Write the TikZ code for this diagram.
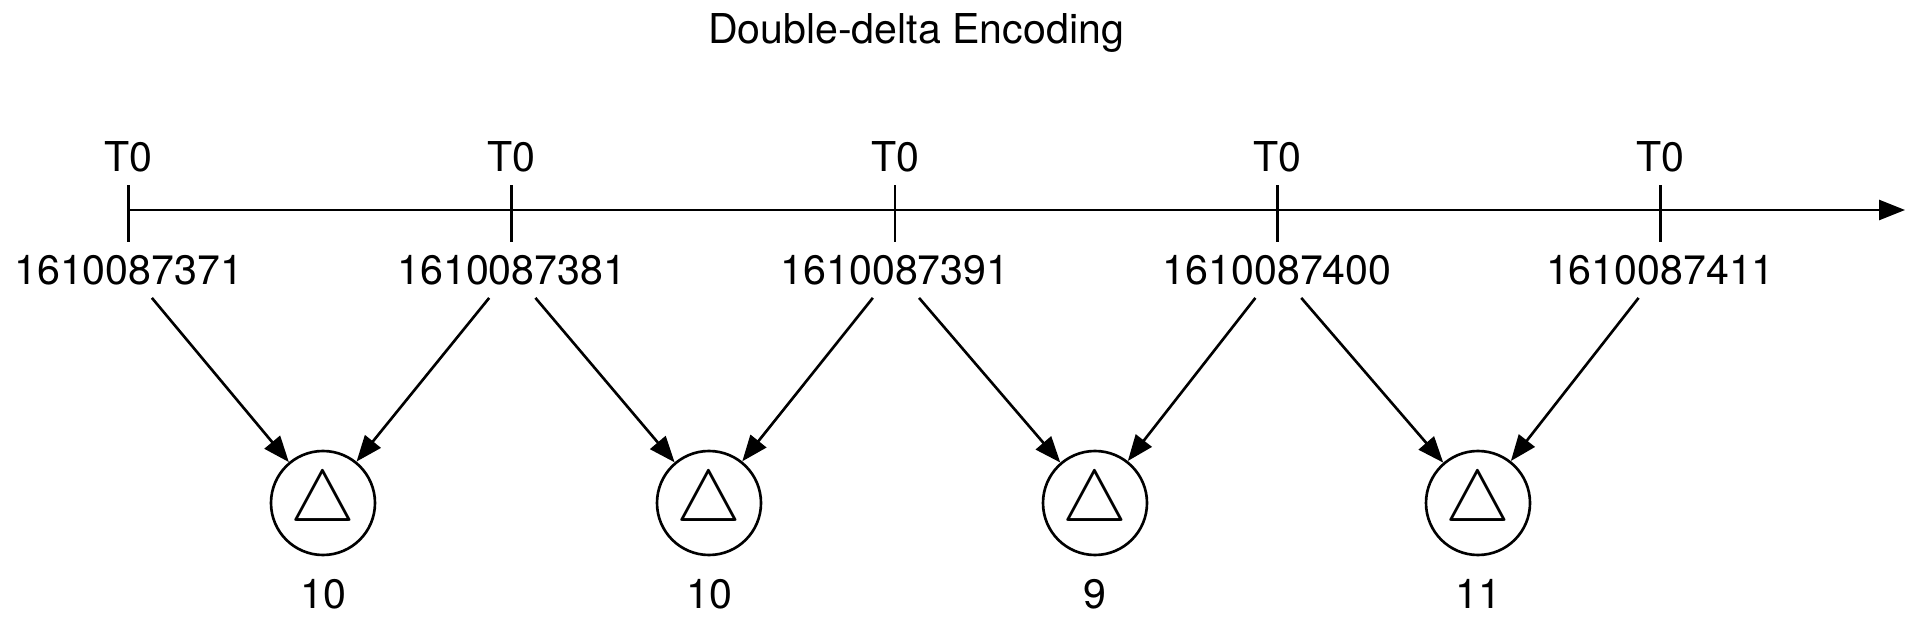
\documentclass[tikz,border=0pt]{standalone}
\usepackage{fontspec}
\setmainfont{TeX Gyre Heros}
\usetikzlibrary{arrows.meta,positioning}

\begin{document}
\begin{tikzpicture}[
  lbl/.style={font=\fontsize{11.7}{13}\selectfont},
  dlt/.style={draw, circle, minimum size=10.4mm, inner sep=0pt, font=\fontsize{22}{24}\selectfont},
  >={Triangle[length=2.6mm,width=2mm]}, line width=0.75pt]
\useasboundingbox (0,0) rectangle (19.2,-6.3);
% title
\node[lbl] (title) at (9.16,-0.33) {Double-delta Encoding};
% time axis
\coordinate (ax0) at (1.286,-2.10);
\coordinate (ax1) at (19.05,-2.10);
\draw[->] (ax0) -- (ax1);
\node[lbl] (t1) at (1.286,-1.57) {T0};
\node[lbl] (t2) at (5.118,-1.57) {T0};
\node[lbl] (t3) at (8.951,-1.57) {T0};
\node[lbl] (t4) at (12.772,-1.57) {T0};
\node[lbl] (t5) at (16.604,-1.57) {T0};
\node[lbl] (n1) at (1.286,-2.70) {1610087371};
\node[lbl] (n2) at (5.118,-2.70) {1610087381};
\node[lbl] (n3) at (8.951,-2.70) {1610087391};
\node[lbl] (n4) at (12.772,-2.70) {1610087400};
\node[lbl] (n5) at (16.604,-2.70) {1610087411};
\draw (t1.south) -- (n1.north);
\draw (t2.south) -- (n2.north);
\draw (t3.south) -- (n3.north);
\draw (t4.south) -- (n4.north);
\draw (t5.south) -- (n5.north);
% deltas
\node[dlt] (d1) at (3.23,-5.03) {$\triangle$};
\node[dlt] (d2) at (7.09,-5.03) {$\triangle$};
\node[dlt] (d3) at (10.95,-5.03) {$\triangle$};
\node[dlt] (d4) at (14.78,-5.03) {$\triangle$};
\node[lbl, below=1mm of d1] (v1) {10};
\node[lbl, below=1mm of d2] (v2) {10};
\node[lbl, below=1mm of d3] (v3) {9};
\node[lbl, below=1mm of d4] (v4) {11};
\draw[->] (n1) -- (d1);
\draw[->] (n2) -- (d1);
\draw[->] (n2) -- (d2);
\draw[->] (n3) -- (d2);
\draw[->] (n3) -- (d3);
\draw[->] (n4) -- (d3);
\draw[->] (n4) -- (d4);
\draw[->] (n5) -- (d4);
\end{tikzpicture}
\end{document}
